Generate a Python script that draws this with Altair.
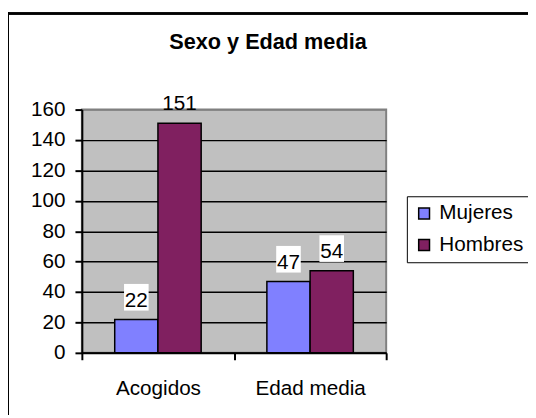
import altair as alt
import pandas as pd

title_text = "Sexo y Edad media"
categories = ["Acogidos", "Edad media"]
series = ["Mujeres", "Hombres"]
mujeres = [22, 47]
hombres = [151, 54]
y_ticks = [0, 20, 40, 60, 80, 100, 120, 140, 160]
colors = ["#8080FF", "#802060"]

rows = []
for i, c in enumerate(categories):
    rows.append({"cat": c, "serie": series[0], "value": mujeres[i]})
    rows.append({"cat": c, "serie": series[1], "value": hombres[i]})
df = pd.DataFrame(rows)

FONT = "Liberation Sans"
FS = 21
W, H = 309, 247

x = alt.X(
    "cat:N", sort=categories, title=None,
    scale=alt.Scale(paddingInner=0, paddingOuter=0),
    axis=alt.Axis(tickBand="extent", labelAngle=0, labelFontSize=FS,
                  labelFont=FONT, labelColor="black", tickSize=7, tickColor="black",
                  tickWidth=2, domainColor="black", domainWidth=2, labelPadding=18,
                  grid=False),
)
xo = alt.XOffset("serie:N", sort=series,
                 scale=alt.Scale(paddingInner=0, paddingOuter=0.76))
y = alt.Y(
    "value:Q", title=None,
    scale=alt.Scale(domain=[0, 160], nice=False),
    axis=alt.Axis(values=y_ticks, labelFontSize=FS, labelFont=FONT, labelColor="black",
                  tickSize=7, tickColor="black", tickWidth=2, domainColor="black",
                  domainWidth=2, labelPadding=10,
                  gridColor={"condition": {"test": "datum.value === 160", "value": "#808080"},
                             "value": "black"},
                  gridWidth=1.5),
)
color = alt.Color(
    "serie:N", sort=series, title=None,
    scale=alt.Scale(domain=series, range=colors),
    legend=alt.Legend(orient="none", legendX=330, legendY=88, strokeColor="black",
                      padding=7, labelFont=FONT, labelFontSize=FS, labelColor="black",
                      symbolType="square", symbolSize=121, symbolStrokeColor="black",
                      symbolStrokeWidth=1.5, symbolOpacity=1, labelOffset=5,
                      rowPadding=10),
)

base = alt.Chart(df)

bars = base.mark_bar(stroke="black", strokeWidth=1.5).encode(x=x, xOffset=xo, y=y, color=color)

boxes = base.transform_filter("datum.value < 140").mark_point(
    shape="M-0.96,-2.77L0.96,-2.77L0.96,-0.69L-0.96,-0.69Z", size=676, filled=True,
    fill="white", strokeWidth=0, opacity=1,
).encode(x=x, xOffset=xo, y=y)

labels = base.mark_text(font=FONT, fontSize=FS, baseline="alphabetic", dy=-13,
                        color="black").encode(x=x, xOffset=xo, y=y, text="value:Q")

title = alt.Chart(pd.DataFrame({"t": [title_text]})).mark_text(
    font=FONT, fontSize=22, fontWeight="bold", color="black",
    align="center", baseline="alphabetic",
).encode(text="t:N", x=alt.value(189), y=alt.value(-62))

border_top = base.mark_rule(color="black", strokeWidth=2).encode(
    x=alt.value(-75), x2=alt.value(453), y=alt.value(-97.5))
border_left = base.mark_rule(color="black", strokeWidth=2).encode(
    x=alt.value(-75), y=alt.value(-98.5), y2=alt.value(310))

chart = alt.layer(bars, boxes, labels, title, border_top, border_left).properties(
    width=W, height=H,
    autosize=alt.AutoSizeParams(type="none"),
    padding={"left": 75, "top": 100, "right": 144, "bottom": 63},
    background="white",
).configure_view(stroke="#808080", strokeWidth=2, fill="#C0C0C0")

chart.save("out.html", embed_options={"renderer": "svg", "actions": False})
